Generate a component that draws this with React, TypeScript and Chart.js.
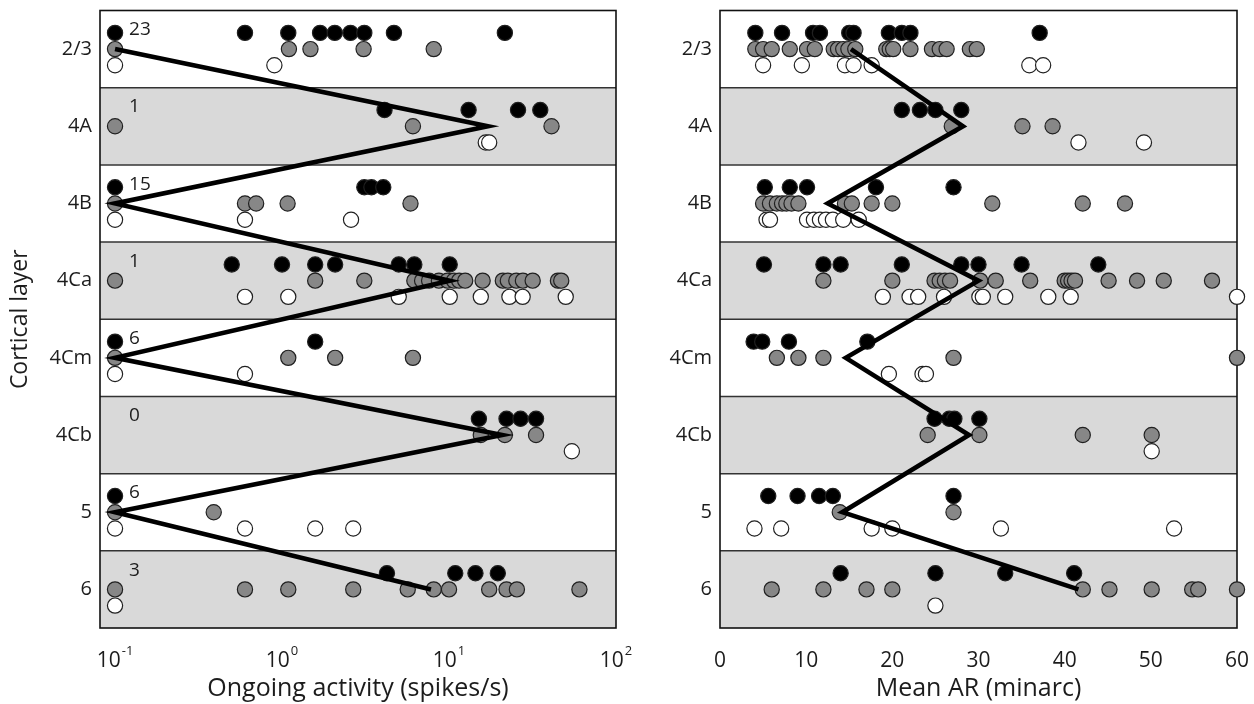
import React, { useEffect, useRef } from 'react';
import { Chart, registerables } from 'chart.js';

Chart.register(...registerables);

// Cortical layers, top to bottom
const layers = ['2/3', '4A', '4B', '4Ca', '4Cm', '4Cb', '5', '6'];
// Number of cells with no ongoing activity in each layer
const zeroCounts = [23, 1, 15, 1, 6, 0, 6, 3];

// Ongoing activity (spikes/s); zero-activity cells sit on the 0.1 floor
const activityBlack: number[][] = [
  [0.1, 0.6, 1.09, 1.69, 2.07, 2.57, 3.11, 4.68, 21.6],
  [4.11, 13.1, 25.9, 35.2],
  [0.1, 3.11, 3.43, 4.04],
  [0.5, 1.0, 1.58, 2.08, 5.0, 6.2, 10.1],
  [0.1, 1.58],
  [15.1, 22.1, 26.8, 33.2],
  [0.1],
  [4.25, 10.9, 14.4, 19.6],
];
const activityGray: number[][] = [
  [0.1, 1.1, 1.48, 3.08, 8.1],
  [0.1, 6.08, 41.1],
  [0.1, 0.6, 0.7, 1.08, 5.88],
  [0.1, 1.58, 3.11, 6.2, 6.9, 7.6, 8.7, 9.8, 10.7, 11.5, 12.5, 15.9, 21.0, 22.5, 25.3, 27.7, 31.7, 44.9, 47.0],
  [0.1, 1.09, 2.08, 6.08],
  [15.5, 21.6, 33.2],
  [0.1, 0.39],
  [0.1, 0.6, 1.09, 2.67, 5.66, 8.1, 10.0, 17.4, 22.1, 25.5, 60.4],
];
const activityWhite: number[][] = [
  [0.1, 0.9],
  [16.6, 17.4],
  [0.1, 0.6, 2.59],
  [0.6, 1.09, 5.0, 10.1, 15.5, 23.0, 27.6, 50.0],
  [0.1, 0.6],
  [54.4],
  [0.1, 0.6, 1.58, 2.67],
  [0.1],
];
const activityMean = [0.1, 17.1, 0.1, 10.1, 0.1, 20.8, 0.1, 7.8];
const activityTickExponents = [-1, 0, 1, 2];

// Mean AR (minarc)
const arBlack: number[][] = [
  [4.1, 7.2, 10.8, 11.6, 15.0, 15.5, 19.6, 21.1, 22.1, 37.1],
  [21.1, 23.2, 25.0, 28.0],
  [5.2, 8.1, 10.1, 18.1, 27.1],
  [5.1, 12.0, 14.0, 21.1, 28.0, 30.0, 35.0, 43.9],
  [3.9, 4.9, 8.0, 17.1],
  [24.9, 26.6, 27.2, 30.1],
  [5.6, 9.0, 11.5, 13.1, 27.1],
  [14.0, 25.0, 33.1, 41.1],
];
const arGray: number[][] = [
  [4.1, 5.0, 6.0, 8.1, 10.1, 11.0, 13.2, 13.7, 14.3, 14.9, 15.7, 19.3, 19.7, 20.1, 22.1, 24.6, 25.5, 26.3, 29.0, 29.8],
  [26.9, 35.1, 38.6],
  [5.0, 5.8, 6.6, 7.2, 7.7, 8.3, 9.1, 14.5, 15.3, 17.6, 20.0, 31.6, 42.1, 47.0],
  [12.0, 20.0, 24.9, 25.5, 26.1, 26.7, 30.2, 32.0, 36.0, 40.0, 40.4, 40.8, 41.2, 45.1, 48.4, 51.5, 57.1],
  [6.6, 9.1, 12.0, 27.1, 60.0],
  [24.1, 30.1, 42.1, 50.1],
  [13.9, 27.1],
  [6.0, 12.0, 17.0, 20.0, 42.1, 45.2, 50.1, 54.8, 55.5, 60.0],
];
const arWhite: number[][] = [
  [5.0, 9.5, 14.5, 15.5, 17.6, 35.9, 37.5],
  [41.6, 49.2],
  [5.4, 5.8, 10.1, 10.9, 11.6, 12.3, 13.1, 14.3, 16.1],
  [18.9, 22.0, 23.0, 26.0, 30.1, 30.5, 33.1, 38.1, 40.7, 60.0],
  [19.6, 23.5, 23.9],
  [50.1],
  [4.0, 7.1, 17.6, 20.0, 32.6, 52.7],
  [25.0],
];
const arMean = [15.2, 28.2, 12.5, 30.0, 14.6, 28.9, 14.2, 41.6];
const arTicks = [0, 10, 20, 30, 40, 50, 60];

const FONT = '"Open Sans", "DejaVu Sans", sans-serif';
const TEXT = '#1c1c1c';
const ROW_SHIFT = 0.21;
const BAND_FILL = '#d9d9d9';
const LINE_DARK = '#333333';
const CANVAS_H = 704;
const PLOT_TOP = 10.5;
const PLOT_BOTTOM = 628;
const LABEL_Y = 661;

type Pt = { x: number; y: number };

function rowPoints(rows: number[][], shift: number): Pt[] {
  const pts: Pt[] = [];
  rows.forEach((vals, i) => vals.forEach((v) => pts.push({ x: v, y: i + shift })));
  return pts;
}

function markerSet(label: string, data: Pt[], fill: string, order: number) {
  return {
    label,
    data,
    order,
    clip: false as const,
    pointRadius: 7.6,
    pointHoverRadius: 7.6,
    pointBorderWidth: 1.2,
    pointBackgroundColor: fill,
    pointBorderColor: '#202020',
    showLine: false,
  };
}

function meanSet(values: number[]) {
  return {
    label: 'mean',
    data: values.map((v, i) => ({ x: v, y: i })),
    order: 0,
    clip: false as const,
    showLine: true,
    borderColor: '#000',
    borderWidth: 4.6,
    borderJoinStyle: 'miter' as const,
    pointRadius: 0,
    pointHoverRadius: 0,
  };
}

// Alternating layer bands, separators and the panel frame
const bandsPlugin = {
  id: 'layerBands',
  beforeDatasetsDraw(chart: any) {
    const { ctx, chartArea } = chart;
    const y = chart.scales.y;
    ctx.save();
    layers.forEach((_, i) => {
      if (i % 2 === 1) {
        const top = y.getPixelForValue(i - 0.5);
        const bot = y.getPixelForValue(i + 0.5);
        ctx.fillStyle = BAND_FILL;
        ctx.fillRect(chartArea.left, top, chartArea.right - chartArea.left, bot - top);
      }
    });
    ctx.strokeStyle = LINE_DARK;
    ctx.lineWidth = 1.5;
    for (let i = 1; i < layers.length; i++) {
      const py = y.getPixelForValue(i - 0.5);
      ctx.beginPath();
      ctx.moveTo(chartArea.left, py);
      ctx.lineTo(chartArea.right, py);
      ctx.stroke();
    }
    ctx.strokeStyle = '#111';
    ctx.lineWidth = 1.6;
    ctx.strokeRect(chartArea.left, chartArea.top, chartArea.right - chartArea.left, chartArea.bottom - chartArea.top);
    ctx.restore();
  },
};

// Powers of ten under the log axis, plus the zero-activity counts
const activityTextPlugin = {
  id: 'activityText',
  afterDraw(chart: any) {
    const { ctx } = chart;
    const x = chart.scales.x;
    const y = chart.scales.y;
    ctx.save();
    ctx.fillStyle = TEXT;
    ctx.textBaseline = 'middle';
    ctx.textAlign = 'left';
    activityTickExponents.forEach((e) => {
      const px = x.getPixelForValue(Math.pow(10, e));
      const base = '10';
      const sup = String(e);
      ctx.font = `21px ${FONT}`;
      const bw = ctx.measureText(base).width;
      ctx.font = `13px ${FONT}`;
      const sw = ctx.measureText(sup).width;
      const start = px - (bw + sw + 1) / 2;
      ctx.font = `21px ${FONT}`;
      ctx.fillText(base, start, LABEL_Y);
      ctx.font = `13px ${FONT}`;
      ctx.fillText(sup, start + bw + 1, LABEL_Y - 10);
    });
    ctx.font = `19px ${FONT}`;
    const cx = x.getPixelForValue(0.1) + 14;
    zeroCounts.forEach((n, i) => {
      ctx.fillText(String(n), cx, y.getPixelForValue(i - ROW_SHIFT) - 3);
    });
    ctx.restore();
  },
};

const arTextPlugin = {
  id: 'arText',
  afterDraw(chart: any) {
    const { ctx } = chart;
    const x = chart.scales.x;
    ctx.save();
    ctx.fillStyle = TEXT;
    ctx.textBaseline = 'middle';
    ctx.textAlign = 'center';
    ctx.font = `21px ${FONT}`;
    arTicks.forEach((t) => ctx.fillText(String(t), x.getPixelForValue(t), LABEL_Y));
    ctx.restore();
  },
};

function yScale(width: number, withTitle: boolean) {
  return {
    type: 'linear' as const,
    min: -0.5,
    max: layers.length - 0.5,
    reverse: true,
    grid: { display: false, drawTicks: false },
    border: { display: false },
    afterBuildTicks(scale: any) {
      scale.ticks = layers.map((_, i) => ({ value: i }));
    },
    afterFit(scale: any) {
      scale.width = width;
      scale.paddingTop = 0;
      scale.paddingBottom = 0;
    },
    ticks: {
      padding: 8,
      color: TEXT,
      font: { family: FONT, size: 20 },
      callback: (v: any) => layers[v as number] ?? '',
    },
    title: {
      display: withTitle,
      text: 'Cortical layer',
      color: TEXT,
      font: { family: FONT, size: 23 },
      padding: { top: 7, bottom: 0 },
    },
  };
}

function xCommon(titleText: string) {
  return {
    grid: { display: false, drawTicks: false },
    border: { display: false },
    ticks: { display: false },
    afterFit(scale: any) {
      scale.height = CANVAS_H - PLOT_BOTTOM;
      scale.paddingLeft = 0;
      scale.paddingRight = 0;
    },
    title: {
      display: true,
      text: titleText,
      color: TEXT,
      font: { family: FONT, size: 25 },
      padding: { top: 0, bottom: 0 },
    },
  };
}

const LEFT_W = 650;
const RIGHT_W = 1254 - LEFT_W;

export default function App() {
  const leftRef = useRef<HTMLCanvasElement | null>(null);
  const rightRef = useRef<HTMLCanvasElement | null>(null);

  useEffect(() => {
    const prevMargin = document.body.style.margin;
    document.body.style.margin = '0';

    const left = new Chart(leftRef.current as HTMLCanvasElement, {
      type: 'scatter',
      data: {
        datasets: [
          meanSet(activityMean),
          markerSet('white', rowPoints(activityWhite, ROW_SHIFT), '#ffffff', 1),
          markerSet('gray', rowPoints(activityGray, 0), '#878787', 2),
          markerSet('black', rowPoints(activityBlack, -ROW_SHIFT), '#000000', 3),
        ] as any,
      },
      options: {
        responsive: false,
        animation: false,
        events: [],
        layout: { padding: { top: PLOT_TOP, right: LEFT_W - 616, bottom: 0, left: 0 } },
        plugins: { legend: { display: false }, tooltip: { enabled: false } },
        scales: {
          x: {
            type: 'logarithmic',
            min: Math.pow(10, -1.09),
            max: 100,
            ...xCommon('Ongoing activity (spikes/s)'),
          } as any,
          y: yScale(100, true) as any,
        },
      },
      plugins: [bandsPlugin, activityTextPlugin],
    });

    const right = new Chart(rightRef.current as HTMLCanvasElement, {
      type: 'scatter',
      data: {
        datasets: [
          meanSet(arMean),
          markerSet('white', rowPoints(arWhite, ROW_SHIFT), '#ffffff', 1),
          markerSet('gray', rowPoints(arGray, 0), '#878787', 2),
          markerSet('black', rowPoints(arBlack, -ROW_SHIFT), '#000000', 3),
        ] as any,
      },
      options: {
        responsive: false,
        animation: false,
        events: [],
        layout: { padding: { top: PLOT_TOP, right: RIGHT_W - (1237 - LEFT_W), bottom: 0, left: 0 } },
        plugins: { legend: { display: false }, tooltip: { enabled: false } },
        scales: {
          x: {
            type: 'linear',
            min: 0,
            max: 60,
            ...xCommon('Mean AR (minarc)'),
          } as any,
          y: yScale(720 - LEFT_W, false) as any,
        },
      },
      plugins: [bandsPlugin, arTextPlugin],
    });

    return () => {
      left.destroy();
      right.destroy();
      document.body.style.margin = prevMargin;
    };
  }, []);

  return (
    <div style={{ position: 'absolute', left: 0, top: 0, width: 1254, height: CANVAS_H, background: '#fff' }}>
      <canvas
        ref={leftRef}
        width={LEFT_W}
        height={CANVAS_H}
        style={{ position: 'absolute', left: 0, top: 0, width: LEFT_W, height: CANVAS_H }}
      />
      <canvas
        ref={rightRef}
        width={RIGHT_W}
        height={CANVAS_H}
        style={{ position: 'absolute', left: LEFT_W, top: 0, width: RIGHT_W, height: CANVAS_H }}
      />
    </div>
  );
}
